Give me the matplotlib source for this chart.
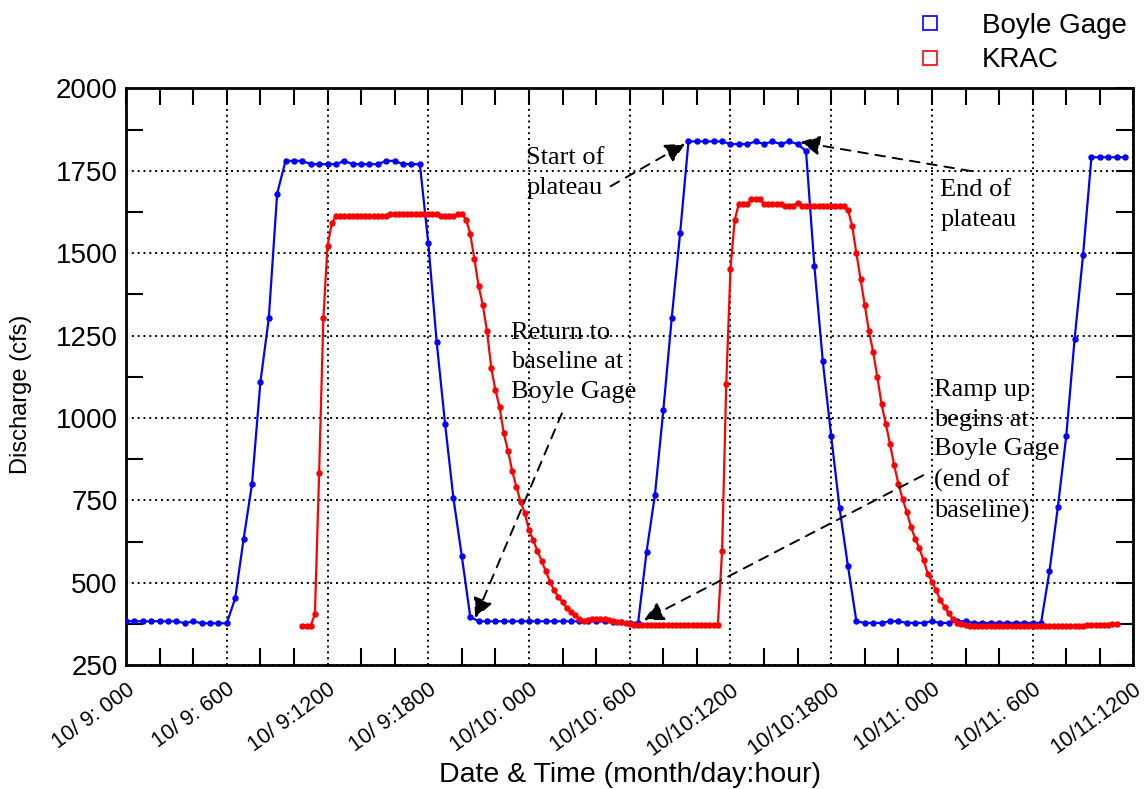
import numpy as np
import matplotlib
matplotlib.use("Agg")
import matplotlib.pyplot as plt
from matplotlib.lines import Line2D
from matplotlib.ticker import MultipleLocator
from matplotlib.transforms import ScaledTranslation

plt.rcParams['font.family'] = ['Liberation Sans', 'DejaVu Sans']

# Boyle Gage, every 30 min from 10/9 00:00 (hours)
boyle_q = ([383, 383, 383, 383, 383, 383, 383, 377, 383, 377, 377, 377, 377,
            453, 632, 799, 1108, 1302, 1681, 1780, 1780, 1780, 1770, 1770, 1770, 1770,
            1780, 1770, 1770, 1770, 1770, 1780, 1780, 1770, 1770, 1770, 1531, 1231,
            983, 756, 580, 397, 383]
           + [383] * 15 + [381, 380, 379, 378]
           + [593, 766, 1023, 1302, 1560, 1839, 1839, 1839, 1839, 1839, 1831, 1831,
              1831, 1839, 1831, 1839, 1831, 1839, 1831, 1810, 1460, 1172, 945, 726,
              550, 383]
           + [378, 378, 378, 383, 383, 378, 378, 378, 383, 378, 378, 383, 383]
           + [378] * 9
           + [535, 729, 945, 1241, 1493, 1791, 1791, 1791, 1791, 1791])
boyle_time = 0.5 * np.arange(len(boyle_q))

# KRAC, every 15 min from 10/9 10:30
krac_q = ([370, 370, 370, 405, 833, 1302, 1522, 1590, 1612]
          + [1612] * 12 + [1620] * 12 + [1612] * 4 + [1620] * 2
          + [1602, 1559, 1481, 1400, 1342, 1263, 1153, 1084, 1033, 953, 900, 839,
             791, 745, 711, 660, 629, 597, 566, 535, 503, 477, 457, 442, 422, 412,
             402, 389, 384, 386, 391, 391, 389, 389, 386, 384, 381, 381, 378, 376]
          + [373] * 21
          + [595, 1104, 1451, 1600, 1650, 1650, 1650, 1663, 1663, 1663]
          + [1650] * 5 + [1642] * 3 + [1653] + [1642] * 11
          + [1632, 1582, 1500, 1421, 1342, 1263, 1200, 1124, 1042, 983, 922, 857,
             801, 755, 715, 670, 634, 604, 568, 528, 503, 477, 447, 427, 407, 389,
             378, 374]
          + [372, 370, 370, 370, 370, 369, 369, 369] + [368] * 16
          + [369, 369, 369, 370, 370, 371, 371, 372, 372, 373, 373, 374, 374])
krac_time = 10.5 + 0.25 * np.arange(len(krac_q))

tick_hours = [0, 6, 12, 18, 24, 30, 36, 42, 48, 54, 60]
tick_labels = ['10/ 9: 000', '10/ 9: 600', '10/ 9:1200', '10/ 9:1800',
               '10/10: 000', '10/10: 600', '10/10:1200', '10/10:1800',
               '10/11: 000', '10/11: 600', '10/11:1200']

fig = plt.figure(figsize=(11.46, 7.89), dpi=100)
ax = fig.add_axes([0.110, 0.157, 0.879, 0.731])

ax.plot(boyle_time, boyle_q, color='#0000ff', lw=1.6, marker='o', ms=3.6, zorder=3)
ax.plot(krac_time, krac_q, color='#ff0000', lw=1.6, marker='o', ms=3.6, zorder=3)

ax.set_xlim(0, 60)
ax.set_ylim(250, 2000)
ax.set_xticks(tick_hours)
ax.set_xticklabels(tick_labels, rotation=36, ha='right', va='top',
                   rotation_mode='anchor', fontsize=15.5)
shift = ScaledTranslation(8 / 100, 0, fig.dpi_scale_trans)
for lab in ax.get_xticklabels():
    lab.set_transform(lab.get_transform() + shift)
ax.xaxis.set_minor_locator(MultipleLocator(2))
ax.yaxis.set_major_locator(MultipleLocator(250))
ax.yaxis.set_minor_locator(MultipleLocator(125))
ax.tick_params(axis='y', labelsize=20, pad=6)
ax.tick_params(axis='x', pad=10)
ax.tick_params(which='both', direction='in', top=True, right=True, width=1.5)
ax.tick_params(which='major', length=12, left=False, bottom=False)
ax.tick_params(which='minor', length=12)
for s in ax.spines.values():
    s.set_linewidth(2)
ax.grid(True, which='major', color='black', linestyle=(0, (1, 2)), lw=1.4)

ax.set_xlabel('Date & Time (month/day:hour)', fontsize=20.5)
ax.xaxis.set_label_coords(0.5, -0.168)
ax.set_ylabel('Discharge (cfs)', fontsize=17)
ax.yaxis.set_label_coords(-0.093, 0.47)

serif = dict(family=['Liberation Serif', 'DejaVu Serif'], fontsize=19, linespacing=1.45)
arrow = dict(arrowstyle='-|>', linestyle=(0, (5, 4)), color='black', lw=1.4,
             mutation_scale=30, shrinkA=0, shrinkB=0)

ax.text(23.85, 1822, 'Start of\nplateau', va='top', ha='left', **serif)
ax.annotate('', xy=(33.3, 1832), xytext=(28.86, 1703), arrowprops=arrow)

ax.text(48.5, 1725, 'End of\nplateau', va='top', ha='left', **serif)
ax.annotate('', xy=(40.15, 1837), xytext=(50.34, 1749), arrowprops=arrow)

ax.text(22.9, 1292, 'Return to\nbaseline at\nBoyle Gage', va='top', ha='left', **serif)
ax.annotate('', xy=(20.8, 393), xytext=(25.96, 1014), arrowprops=arrow)

ax.text(48.1, 1118, 'Ramp up\nbegins at\nBoyle Gage\n(end of\nbaseline)',
        va='top', ha='left', **serif)
ax.annotate('', xy=(30.84, 386), xytext=(47.48, 826), arrowprops=arrow)

handles = [Line2D([], [], color='#0000ff', marker='s', mfc='none', ls='none', ms=10, mew=1.2),
           Line2D([], [], color='#ff0000', marker='s', mfc='none', ls='none', ms=10, mew=1.2)]
fig.legend(handles, ['Boyle Gage', 'KRAC'], loc='upper left',
           bbox_to_anchor=(916 / 1146, 1 - 13 / 789), frameon=False, fontsize=20,
           handlelength=1.0, handletextpad=1.37, labelspacing=0.3,
           borderpad=0, borderaxespad=0)

fig.savefig('out.png', dpi=100)
